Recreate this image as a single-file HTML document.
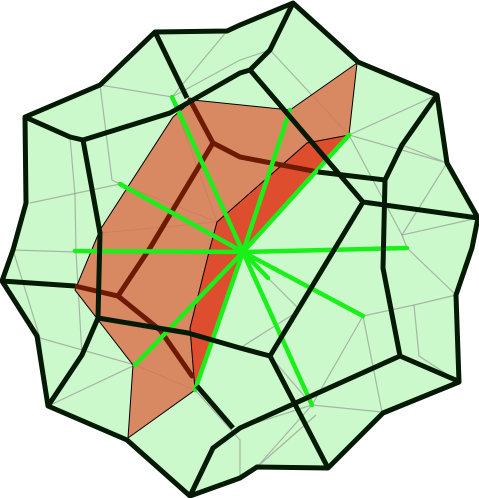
<!DOCTYPE html>
<html><head><meta charset="utf-8"><style>html,body{margin:0;padding:0;background:#fff}svg{display:block}</style></head>
<body>
<svg width="479" height="498" viewBox="0 0 479 498" xmlns="http://www.w3.org/2000/svg">
<polygon fill="#ccf9cc" stroke="none" points="155,32 227,31 240,25 293,3 358,62 437,95 447,163 478,218 472,248 456,295 459,382 383,413 328,468 257,467 240,478 190,496 127,440 48,406 37,336 2,281 13,250 26,203 25,117 100,85"/>
<g stroke="#888" stroke-opacity="0.6" stroke-width="1.2" fill="none">
<polyline points="100,85 172,97 227,31"/>
<polyline points="100,85 112,180 120,184 30,203"/>
<polyline points="70,137 75,195 76,252 13,250"/>
<polyline points="172,97 240,60 270,50"/>
<polyline points="270,50 349,135 437,95"/>
<polyline points="349,135 447,163 402,145"/>
<polyline points="349,135 402,235 447,163"/>
<polyline points="407,248 402,235 478,218"/>
<polyline points="407,248 456,295 414,305 363,316"/>
<polyline points="414,305 419,356 459,382"/>
<polyline points="363,316 382,412 312,405"/>
<polyline points="312,405 257,467 316,415"/>
<polyline points="312,405 270,356"/>
<polyline points="363,316 312,405 240,428"/>
<polyline points="135,365 48,406 40,338 135,365 195,390"/>
<polyline points="195,390 240,440 240,478"/>
<polyline points="76,252 82,355"/>
<polyline points="268,278 300,310 240,348"/>
<polyline points="40,338 13,250"/>
<polyline points="172,97 217,222 120,184"/>
<polyline points="217,222 100,233"/>
</g>
<polygon fill="#d9764f" fill-opacity="0.85" stroke="#000" stroke-width="1" points="173,117 193,100 290,110 357,63 349,135 243,252 195,390 128,438 133,365 75,290 100,230"/>
<polygon fill="#e0472a" fill-opacity="0.9" stroke="#000" stroke-width="1" points="217,222 307,143 349,135 243,252 195,390 190,328 210,248"/>
<g stroke="#6e1a00" stroke-width="5" fill="none" stroke-linecap="round">
<polyline points="190,100 213,143 240,157 318,172"/>
<polyline points="213,143 150,248 118,296 75,286"/>
<polyline points="118,296 160,330 192,376"/>
</g>
<g stroke="#19f019" stroke-width="4.5" stroke-linecap="round">
<line x1="243" y1="252" x2="172" y2="97"/>
<line x1="243" y1="252" x2="120" y2="184"/>
<line x1="243" y1="252" x2="75" y2="251"/>
<line x1="243" y1="252" x2="407" y2="248"/>
<line x1="243" y1="252" x2="349" y2="135"/>
<line x1="243" y1="252" x2="290" y2="110"/>
<line x1="243" y1="252" x2="135" y2="365"/>
<line x1="243" y1="252" x2="195" y2="390"/>
<line x1="243" y1="252" x2="363" y2="316"/>
<line x1="243" y1="252" x2="312" y2="405"/>
<line x1="243" y1="252" x2="268" y2="278"/>
</g>
<g stroke="#051a05" stroke-width="5" fill="none" stroke-linejoin="round">
<polygon points="155,32 227,31 240,25 293,3 358,62 437,95 447,163 478,218 472,248 456,295 459,382 383,413 328,468 257,467 240,478 190,496 127,440 48,406 37,336 2,281 13,250 26,203 25,117 100,85"/>
<polyline points="155,32 187,98"/>
<polyline points="25,117 70,137 83,140 170,113 240,73 250,70 270,50 293,3"/>
<polyline points="250,70 363,202 478,218"/>
<polyline points="363,202 270,356 328,468"/>
<polyline points="270,356 240,348 188,333 98,318 100,233 83,140"/>
<polyline points="98,318 82,355 48,406"/>
<polyline points="2,281 75,286"/>
<polyline points="437,95 402,145 385,180 383,268 400,356 458,381"/>
<polyline points="318,172 385,180"/>
<polyline points="400,356 240,428 213,448 190,496"/>
<polyline points="197,386 233,428"/>
</g>
</svg>
</body></html>
